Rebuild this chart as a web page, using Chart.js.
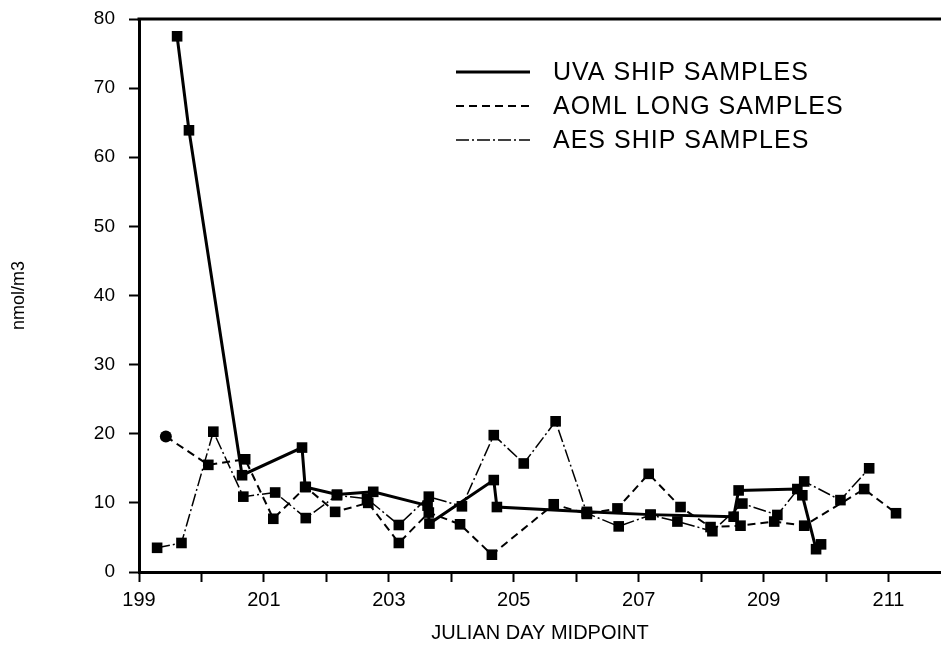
<!DOCTYPE html>
<html>
<head>
<meta charset="utf-8">
<script src="https://cdn.jsdelivr.net/npm/chart.js@4/dist/chart.umd.min.js"></script>
<style>
  html, body { margin: 0; padding: 0; background: #fff; }
  #wrap { width: 941px; height: 645px; position: relative; }
</style>
</head>
<body>
<div id="wrap"><canvas id="c" width="941" height="645"></canvas></div>
<script>
// ---- Data ----
const uvaLabel = 'UVA SHIP SAMPLES';
const uvaDays   = [199.61, 199.80, 200.65, 201.61, 201.66, 202.17, 202.75, 203.62, 203.65, 204.68, 204.73, 206.17, 207.19, 208.52, 208.60, 209.54, 209.62, 209.84, 209.92];
const uvaValues = [77.5,   63.9,   14.0,   18.0,   12.3,   11.2,   11.6,   9.6,    7.0,    13.3,   9.4,    8.7,    8.3,    8.0,    11.8,   12.0,   11.1,   3.3,    4.0];

const aomlLabel = 'AOML LONG SAMPLES';
const aomlDays   = [199.43, 200.11, 200.70, 201.15, 201.67, 202.14, 202.67, 203.16, 203.64, 204.14, 204.65, 205.64, 206.17, 206.66, 207.16, 207.67, 208.15, 208.63, 209.17, 209.65, 210.61, 211.12];
const aomlValues = [19.6,   15.5,   16.3,   7.7,    12.3,   8.7,    10.0,   4.2,    8.6,    6.9,    2.5,    9.8,    8.4,    9.2,    14.2,   9.4,    6.5,    6.7,    7.3,    6.7,    12.0,   8.5];

const aesLabel = 'AES SHIP SAMPLES';
const aesDays   = [199.29, 199.68, 200.19, 200.67, 201.18, 201.67, 202.17, 202.65, 203.16, 203.64, 204.17, 204.68, 205.16, 205.67, 206.17, 206.68, 207.19, 207.62, 208.18, 208.66, 209.22, 209.65, 210.23, 210.69];
const aesValues = [3.5,    4.2,    20.3,   10.9,   11.5,   7.8,    11.1,   10.6,   6.8,    10.9,   9.5,    19.8,   15.7,   21.8,   8.5,    6.6,    8.25,   7.3,    5.9,    9.9,    8.25,   13.1,   10.4,   15.0];

const xTickValues = [199, 200, 201, 202, 203, 204, 205, 206, 207, 208, 209, 210, 211];
const xTickLabels = ['199', '', '201', '', '203', '', '205', '', '207', '', '209', '', '211'];
const yTickValues = [0, 10, 20, 30, 40, 50, 60, 70, 80];
const xTitle = 'JULIAN DAY MIDPOINT';
const yTitle = 'nmol/m3';

const pts = (xs, ys) => xs.map((x, i) => ({ x: x, y: ys[i] }));

const FONT = "'Liberation Sans', Arial, sans-serif";

const framePlugin = {
  id: 'frameTop',
  afterDatasetsDraw(chart) {
    const a = chart.chartArea, ctx = chart.ctx;
    ctx.save();
    ctx.beginPath();
    ctx.lineWidth = 3;
    ctx.strokeStyle = '#000';
    ctx.moveTo(a.left - 1.5, a.top);
    ctx.lineTo(chart.width, a.top);
    ctx.stroke();
    ctx.restore();
  }
};

const legendPlugin = {
  id: 'insideLegend',
  afterDraw(chart) {
    const ctx = chart.ctx;
    const rows = [72, 106, 140];
    ctx.save();
    chart.data.datasets.forEach((ds, i) => {
      const y = rows[i];
      ctx.beginPath();
      ctx.setLineDash(ds.borderDash || []);
      ctx.lineWidth = ds.borderWidth;
      ctx.strokeStyle = '#000';
      ctx.moveTo(456, y);
      ctx.lineTo(530, y);
      ctx.stroke();
      ctx.setLineDash([]);
      ctx.fillStyle = '#000';
      ctx.font = '25px ' + FONT;
      if ('letterSpacing' in ctx) ctx.letterSpacing = '1px';
      ctx.textBaseline = 'middle';
      ctx.textAlign = 'left';
      ctx.fillText(ds.label, 553, y + 1);
    });
    ctx.restore();
  }
};

const common = {
  pointStyle: 'rect',
  pointRadius: 7.5,
  pointHoverRadius: 7.5,
  pointBorderWidth: 0,
  pointBackgroundColor: '#000',
  borderColor: '#000',
  fill: false,
  tension: 0
};

new Chart(document.getElementById('c'), {
  type: 'line',
  data: {
    datasets: [
      Object.assign({}, common, { label: uvaLabel, data: pts(uvaDays, uvaValues), borderWidth: 3 }),
      Object.assign({}, common, { label: aomlLabel, data: pts(aomlDays, aomlValues), borderWidth: 2, borderDash: [8, 5],
        pointStyle: (c) => c.dataIndex === 0 ? 'circle' : 'rect',
        pointRadius: (c) => c.dataIndex === 0 ? 6 : 7.5 }),
      Object.assign({}, common, { label: aesLabel, data: pts(aesDays, aesValues), borderWidth: 1.5, borderDash: [13, 3, 2, 3] })
    ]
  },
  options: {
    responsive: false,
    animation: false,
    devicePixelRatio: 1,
    layout: { autoPadding: false, padding: { top: 19, right: 0, left: 0, bottom: 0 } },
    plugins: { legend: { display: false }, tooltip: { enabled: false } },
    scales: {
      x: {
        type: 'linear',
        min: 199,
        max: 211.84,
        afterBuildTicks: (s) => { s.ticks = xTickValues.map(v => ({ value: v })); },
        afterFit: (s) => { s.height = 73; s.paddingLeft = 0; s.paddingRight = 0; },
        ticks: {
          autoSkip: false,
          maxRotation: 0,
          padding: 6,
          color: '#000',
          font: { family: FONT, size: 20 },
          callback: (v) => { const i = xTickValues.indexOf(v); return i >= 0 ? xTickLabels[i] : ''; }
        },
        grid: { display: true, drawOnChartArea: false, drawTicks: true, tickLength: 10, tickColor: '#000', tickWidth: 2 },
        border: { display: true, color: '#000', width: 3 },
        title: { display: true, text: xTitle, color: '#000', font: { family: FONT, size: 20 }, padding: { top: 8, bottom: 0 } }
      },
      y: {
        min: 0,
        max: 80,
        afterBuildTicks: (s) => { s.ticks = yTickValues.map(v => ({ value: v })); },
        afterFit: (s) => { s.width = 139; s.paddingTop = 0; s.paddingBottom = 0; },
        ticks: { color: '#000', padding: 14, font: { family: FONT, size: 19 } },
        grid: { display: true, drawOnChartArea: false, drawTicks: true, tickLength: 10, tickColor: '#000', tickWidth: 2 },
        border: { display: true, color: '#000', width: 3 },
        title: { display: true, text: yTitle, color: '#000', font: { family: FONT, size: 18 }, padding: { top: 8, bottom: 0 } }
      }
    }
  },
  plugins: [framePlugin, legendPlugin]
});
</script>
</body>
</html>
